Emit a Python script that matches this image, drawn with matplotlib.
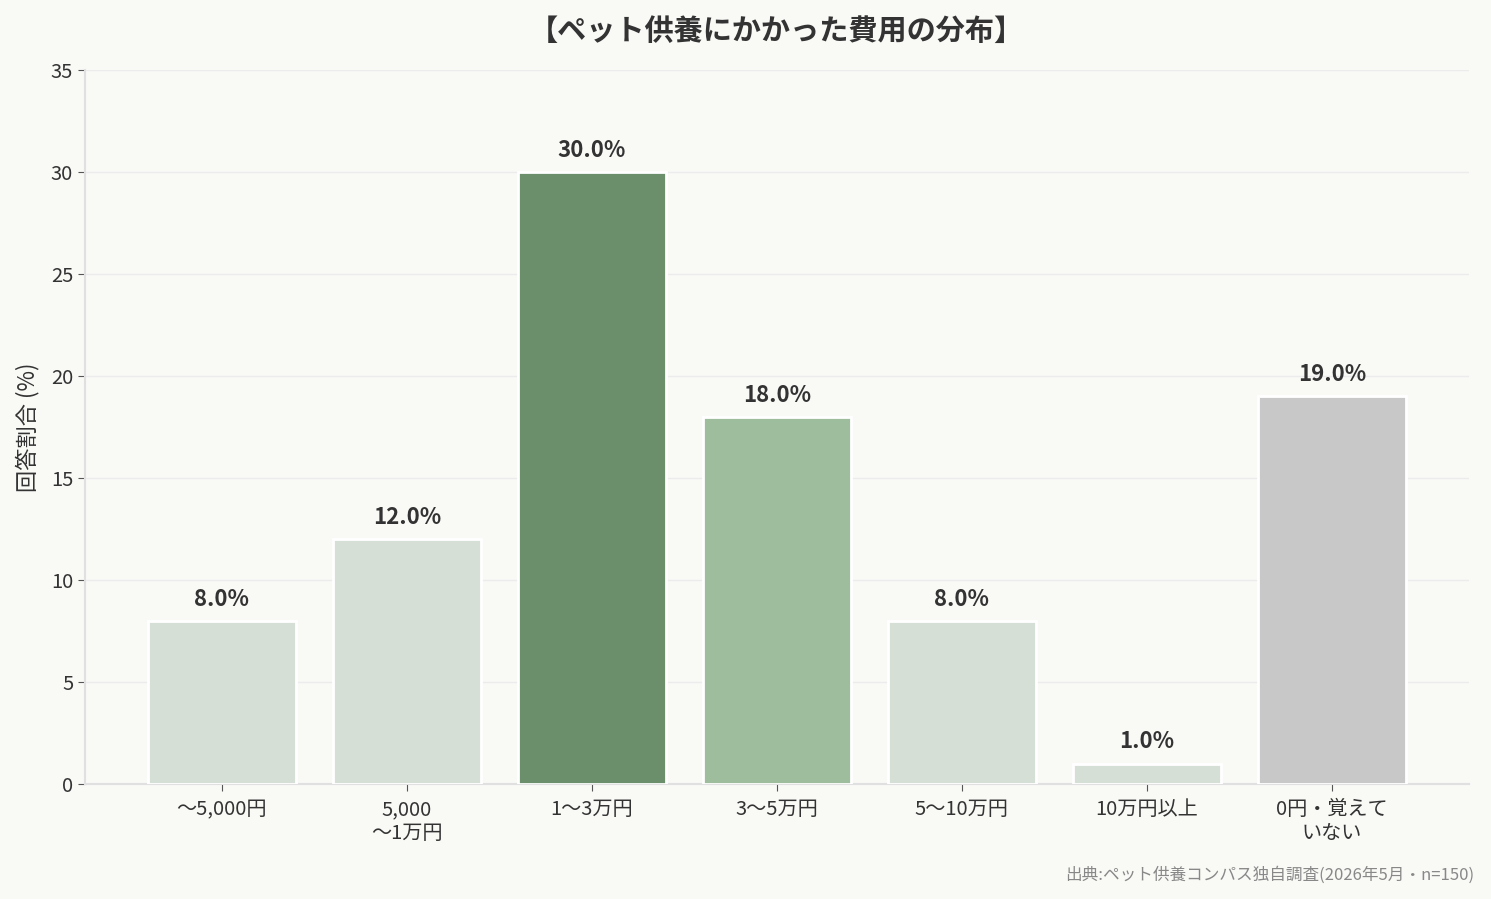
import matplotlib
matplotlib.use('Agg')
import matplotlib.pyplot as plt

plt.rcParams['font.family'] = ['Noto Sans CJK JP', 'DejaVu Sans']

categories = ['～5,000円', '5,000\n～1万円', '1～3万円', '3～5万円', '5～10万円', '10万円以上', '0円・覚えて\nいない']
values = [8.0, 12.0, 30.0, 18.0, 8.0, 1.0, 19.0]
colors = ['#d5dfd5', '#d5dfd5', '#6b8f6b', '#9ebd9c', '#d5dfd5', '#d5dfd5', '#c8c8c8']

bg = '#f9faf6'
fig, ax = plt.subplots(figsize=(14.91, 8.99), dpi=100)
fig.patch.set_facecolor(bg)
ax.set_facecolor(bg)

x = range(len(categories))
bars = ax.bar(x, values, width=0.8, color=colors, edgecolor='white', linewidth=2, zorder=3)

for bar, v in zip(bars, values):
    ax.text(bar.get_x() + bar.get_width() / 2, v + 0.5, f'{v:.1f}%',
            ha='center', va='bottom', fontsize=16, fontweight='bold', color='#333333')

ax.set_xticks(list(x))
ax.set_xticklabels(categories, fontsize=14.5, color='#333333', linespacing=1.15)
ax.set_xlim(-0.74, 6.74)
ax.set_ylim(0, 35)
ax.set_yticks(range(0, 36, 5))
ax.tick_params(axis='y', labelsize=14.5, colors='#333333')
ax.tick_params(axis='x', pad=6)
ax.tick_params(axis='both', length=5, color='#555555')
ax.set_ylabel('回答割合 (%)', fontsize=16, color='#333333', labelpad=8)

ax.grid(axis='y', color='#ececec', linewidth=1, zorder=0)
for s in ['top', 'right']:
    ax.spines[s].set_visible(False)
for s in ['left', 'bottom']:
    ax.spines[s].set_color('#e0e0e0')
    ax.spines[s].set_linewidth(1.5)

ax.set_title('【ペット供養にかかった費用の分布】', fontsize=21, fontweight='bold', color='#333333', pad=22)

fig.text(0.989, 0.017, '出典:ペット供養コンパス独自調査(2026年5月・n=150)', ha='right', va='bottom',
         fontsize=12, color='#888888')

plt.subplots_adjust(left=0.057, right=0.985, top=0.922, bottom=0.128)
plt.savefig('out.png', dpi=100, facecolor=bg)
